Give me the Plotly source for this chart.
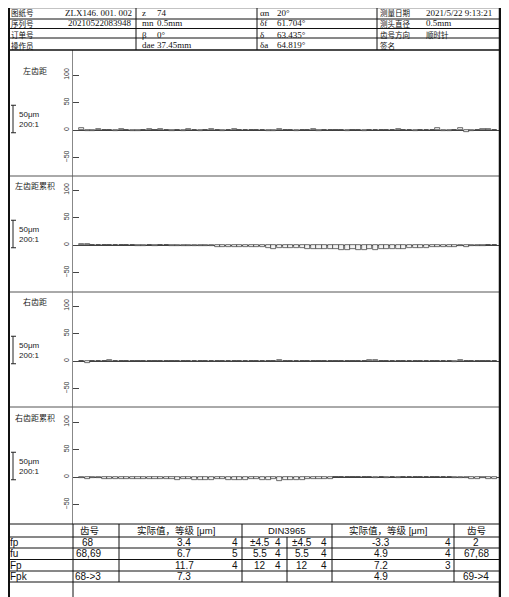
import plotly.graph_objects as go

# the page body has an 8px margin, so the figure is drawn 8px in and down
OFF = 8
W, H = 509 - OFF, 597 - OFF

teeth = list(range(1, 75))

left_pitch = [3.0, -1.2, -1.0, 2.0, 0.3, 0.0, -1.0, 2.0, 0.2, -1.2,
              -1.0, 0.0, 2.0, -0.5, 2.0, 0.8, -1.5, -0.5, -1.2, 2.0,
              0.3, -1.0, 0.2, 1.0, 0.5, -2.5, 0.5, 1.0, 0.3, -0.3,
              0.5, 0.2, -0.8, -2.0, -1.5, 1.5, 0.3, 0.0, -1.0, 0.2,
              -0.3, 2.0, -2.5, -0.5, 0.2, 0.0, -0.5, -1.0, 0.3, -0.8,
              -1.0, 0.2, -0.5, 0.5, -0.3, 0.0, 1.5, 0.3, -0.8, -1.0,
              -0.5, 0.2, 0.3, 3.0, -2.0, -1.0, 0.3, 3.4, -3.3, -1.0,
              0.3, 1.0, 1.2, -0.5]

left_cum = [2.0, 1.2, -0.5, 0.5, 0.8, 0.3, -0.5, 0.8, 0.5, -0.3,
            -2.0, -1.0, -0.5, -2.5, -0.8, -0.3, -1.2, -1.5, -2.5, -1.5,
            -1.8, -2.5, -2.3, -2.0, -2.8, -3.5, -3.5, -3.5, -3.2, -3.5,
            -3.8, -4.5, -4.0, -6.0, -6.5, -5.5, -5.5, -6.0, -6.0, -5.5,
            -7.0, -6.5, -8.0, -7.5, -7.5, -8.0, -9.7, -8.5, -8.0, -8.5,
            -8.5, -8.0, -8.5, -8.0, -7.5, -7.0, -6.5, -6.5, -6.0, -5.5,
            -5.0, -5.0, -4.0, -4.0, -4.5, -3.5, -3.5, -2.0, -3.5, -2.5,
            -2.0, -1.5, -0.5, 0.5]

right_pitch = [0.5, -3.3, 0.3, 0.5, -0.5, 1.5, 0.2, -0.3, 0.2, 0.0,
               0.3, -0.2, 0.2, 0.0, 0.3, -0.3, 0.2, 0.0, 0.3, -0.2,
               0.3, 0.0, 0.2, -0.3, 0.0, 0.2, 0.0, 0.3, -0.2, 0.3,
               0.2, 0.0, 0.3, -0.8, 0.5, 1.5, -0.5, 0.3, 0.5, -0.3,
               -0.8, 0.3, 0.5, -0.2, 0.3, 0.0, 0.2, -0.3, 0.0, 0.3,
               -0.5, 1.5, 1.2, -0.5, 0.3, -0.3, 0.2, 0.0, 0.3, -0.2,
               0.0, 0.3, 0.2, -0.3, 0.2, 0.0, -2.5, 2.4, -0.5, 0.3,
               0.2, 0.3, -0.2, 0.3]

right_cum = [-2.5, -3.0, -2.5, -2.5, -3.5, -3.0, -3.5, -3.5, -4.0, -4.0,
             -4.0, -4.0, -4.0, -4.0, -4.5, -4.5, -4.5, -5.5, -4.5, -4.5,
             -5.0, -5.0, -5.5, -5.0, -4.5, -4.5, -5.5, -5.5, -5.5, -5.5,
             -4.5, -4.5, -5.0, -5.5, -4.5, -6.5, -5.5, -5.0, -5.5, -5.0,
             -3.5, -4.0, -3.5, -3.0, -3.5, -0.5, -0.3, -0.5, -0.3, -0.5,
             -0.3, -0.5, -1.0, -0.3, -1.5, -0.3, -1.2, -0.3, 0.3, -0.3,
             0.3, -0.5, -0.5, -0.5, -0.5, -0.5, -2.5, -2.0, -2.5, -3.0,
             -3.0, -2.5, -3.0, -3.0]

panel_names = ["左齿距", "左齿距累积", "右齿距", "右齿距累积"]
panel_series = [left_pitch, left_cum, right_pitch, right_cum]

header_rows = [
    ["图纸号", "ZLX146. 001. 002", "z", "74", "αn", "20°", "测量日期", "2021/5/22 9:13:21"],
    ["序列号", "20210522083948", "mn", "0.5mm", "δf", "61.704°", "测头直径", "0.5mm"],
    ["订单号", "", "β", "0°", "δ", "63.435°", "齿号方向", "顺时针"],
    ["操作员", "", "dae", "37.45mm", "δa", "64.819°", "签名", ""],
]

table_head = ["齿号", "实际值，等级 [μm]", "DIN3965", "实际值，等级 [μm]", "齿号"]
table_labels = ["fp", "fu", "Fp", "Fpk"]
table_rows = [
    ["68", "3.4", "4", "±4.5", "4", "±4.5", "4", "-3.3", "4", "2"],
    ["68,69", "6.7", "5", "5.5", "4", "5.5", "4", "4.9", "4", "67,68"],
    ["", "11.7", "4", "12", "4", "12", "4", "7.2", "3", ""],
    ["68->3", "7.3", "", "", "", "", "", "4.9", "", "69->4"],
]


def px(x):
    return (x - OFF) / W


def py(y):
    return 1 - (y - OFF) / H


# pixel layout of the four panels: top, bottom, zero line
panels = [(50, 176, 130), (176, 292, 245), (292, 407, 361), (407, 524, 477)]
k = 0.55  # px per micron
x_left, x_right = 73, 500

fig = go.Figure()
shapes = []
annotations = []

for i, (top, bot, zero) in enumerate(panels):
    n = "" if i == 0 else str(i + 1)
    fig.add_trace(go.Bar(
        x=teeth, y=panel_series[i], xaxis="x" + n, yaxis="y" + n,
        width=0.9, marker=dict(color="#f2f2f2", line=dict(color="#333333", width=0.7)),
        showlegend=False, hoverinfo="x+y",
    ))
    fig.layout["xaxis" + n] = dict(
        domain=[px(x_left), px(x_right)], range=[-0.5, 75], visible=False,
        anchor="y" + n, fixedrange=True,
    )
    fig.layout["yaxis" + n] = dict(
        domain=[py(bot), py(top)], anchor="x" + n,
        range=[-(bot - zero) / k, (zero - top) / k],
        tickvals=[-50, 0, 50, 100], ticks="inside", ticklen=6, tickcolor="#444",
        tickangle=-90, tickfont=dict(family="Liberation Sans Narrow, Liberation Sans", size=7, color="#333"),
        showline=True, linecolor="#888", linewidth=1, showgrid=False,
        zeroline=True, zerolinecolor="#444", zerolinewidth=1, fixedrange=True,
    )
    yref = "y" + n
    # scale bar 50 um
    shapes.append(dict(type="line", xref="paper", yref=yref, x0=px(13), x1=px(13), y0=-5, y1=45,
                       line=dict(color="#222", width=1)))
    for yy in (-5, 45):
        shapes.append(dict(type="line", xref="paper", yref=yref, x0=px(11), x1=px(16), y0=yy, y1=yy,
                           line=dict(color="#222", width=1)))
    annotations.append(dict(text="50μm", xref="paper", yref=yref, x=px(17), y=28, xanchor="left",
                            showarrow=False, font=dict(family="Liberation Sans", size=8, color="#222")))
    annotations.append(dict(text="200:1", xref="paper", yref=yref, x=px(17), y=10, xanchor="left",
                            showarrow=False, font=dict(family="Liberation Sans", size=8, color="#222")))
    annotations.append(dict(text=panel_names[i], xref="paper", yref=yref, x=px(35), y=108,
                            xanchor="center", showarrow=False,
                            font=dict(family="Noto Sans CJK SC", size=8, color="#222")))
    if i > 0:
        shapes.append(dict(type="line", xref="paper", yref="paper", x0=px(8), x1=px(500),
                           y0=py(top), y1=py(top), line=dict(color="#555", width=1)))


def hline(y, x0, x1, w=1, c="#111"):
    shapes.append(dict(type="line", xref="paper", yref="paper", x0=px(x0), x1=px(x1),
                       y0=py(y), y1=py(y), line=dict(color=c, width=w)))


def vline(x, y0, y1, w=1, c="#111"):
    shapes.append(dict(type="line", xref="paper", yref="paper", x0=px(x), x1=px(x),
                       y0=py(y0), y1=py(y1), line=dict(color=c, width=w)))


def text(s, x, y, anchor="left", size=9, family="Liberation Serif, Noto Sans CJK SC"):
    annotations.append(dict(text=s, xref="paper", yref="paper", x=px(x), y=py(y), xanchor=anchor,
                            yanchor="middle", showarrow=False, borderpad=0,
                            font=dict(family=family, size=size, color="#111")))


# header table
for y in (7.5, 19, 28.5, 38, 50):
    hline(y, 7, 501, w=1.5 if y in (7.5, 50) else 1)
for x in (136, 257, 377):
    vline(x, 7, 50)
header_x = [(10, "left"), (133, "right"), (141, "left"), (156, "left"),
            (259, "left"), (276, "left"), (379, "left"), (425, "left")]
cjk_cols = (0, 6, 7)
for r, row in enumerate(header_rows):
    yc = [13, 23.5, 34.5, 45][r]
    for c, ((x, a), s) in enumerate(zip(header_x, row)):
        if s:
            if c in cjk_cols and not s[0].isdigit():
                text(s, x, yc, a, 7.5, "Noto Sans CJK SC")
            else:
                text(s, x, yc, a, 9)

# outer frame
vline(8.5, 7, 597, w=3)
vline(500, 7, 597, w=2.5)

# bottom table
for y in (524, 537, 548, 559.5, 571, 582):
    hline(y, 8, 500)
vline(73, 524, 597)
for x in (119, 242, 332, 454):
    vline(x, 524, 582)
vline(287, 537, 582)
tf = "Liberation Sans, Noto Sans CJK SC"
for s, x in zip(table_head, [89, 176, 287, 388, 476]):
    text(s, x, 530.5, "center", 9.5, tf)
cell_x = [(88, "center"), (184, "center"), (239, "right"), (260, "center"), (282, "right"),
          (302, "center"), (328, "right"), (381, "center"), (452, "right"), (476, "center")]
row_y = [542.5, 553.5, 565, 576.5]
for r, row in enumerate(table_rows):
    text(table_labels[r], 9, row_y[r], "left", 10, tf)
    for (x, a), s in zip(cell_x, row):
        if s:
            text(s, x, row_y[r], a, 10, tf)

fig.update_layout(
    width=W, height=H, margin=dict(l=0, r=0, t=0, b=0),
    paper_bgcolor="white", plot_bgcolor="white",
    shapes=shapes, annotations=annotations, bargap=0, showlegend=False,
)

fig.write_html("out.html")
